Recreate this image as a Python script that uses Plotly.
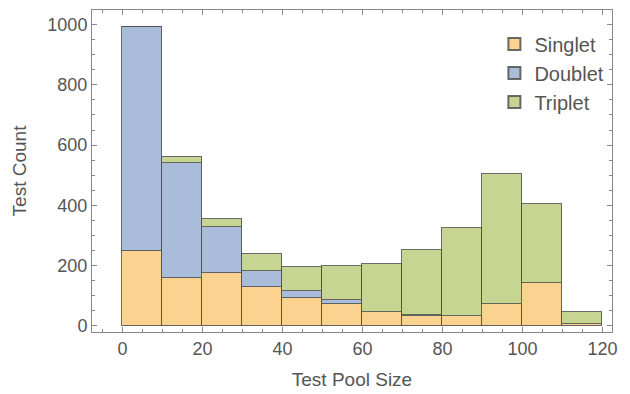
import plotly.graph_objects as go

bin_starts = [0, 10, 20, 30, 40, 50, 60, 70, 80, 90, 100, 110]
singlet = [250, 159, 176, 129, 94, 74, 46, 34, 33, 72, 144, 8]
doublet = [741, 380, 152, 53, 21, 11, 0, 3, 0, 0, 0, 0]
triplet = [0, 20, 27, 56, 79, 113, 161, 216, 292, 431, 262, 40]

bin_width = 10
centers = [b + bin_width / 2 for b in bin_starts]

colors = {"Singlet": "#FBD28F", "Doublet": "#A9BCDA", "Triplet": "#C6D692"}
edge = "rgba(80,80,80,0.85)"

fig = go.Figure()
for name, vals in [("Singlet", singlet), ("Doublet", doublet), ("Triplet", triplet)]:
    fig.add_trace(go.Bar(
        x=centers, y=vals, width=[bin_width] * len(vals), name=name,
        marker=dict(color=colors[name], line=dict(color=edge, width=1)),
    ))

font_family = "Liberation Sans, Arial, sans-serif"
text_color = "#555555"
axis_common = dict(
    showline=True, linecolor="#888888", linewidth=1, mirror="ticks",
    ticks="inside", ticklen=5, tickcolor="#888888", tickwidth=1,
    showgrid=False, zeroline=False, automargin=False,
    tickfont=dict(family=font_family, size=18, color=text_color),
)

fig.update_layout(
    barmode="stack",
    bargap=0,
    width=630, height=394,
    margin=dict(l=92, r=18, t=10, b=62),
    plot_bgcolor="white", paper_bgcolor="white",
    font=dict(family=font_family, color=text_color),
    xaxis=dict(range=[-7.6, 122.4], tickvals=[0, 20, 40, 60, 80, 100, 120],
               minor=dict(dtick=5, tick0=0, ticks="inside", ticklen=3, tickcolor="#888888"),
               title=dict(text="Test Pool Size", font=dict(size=19, color=text_color)),
               **axis_common),
    yaxis=dict(range=[-20, 1048], tickvals=[0, 200, 400, 600, 800, 1000],
               minor=dict(dtick=50, tick0=0, ticks="inside", ticklen=3, tickcolor="#888888"),
               title=dict(text="Test Count", font=dict(size=19, color=text_color)),
               **axis_common),
    legend=dict(x=0.995, y=0.955, xanchor="right", yanchor="top",
                bgcolor="rgba(0,0,0,0)", font=dict(size=20, color=text_color),
                traceorder="normal", itemsizing="constant", tracegroupgap=0),
    showlegend=True,
)

fig.write_html("out.html", config={"displayModeBar": False},
               post_script="document.body.style.margin='0';")
